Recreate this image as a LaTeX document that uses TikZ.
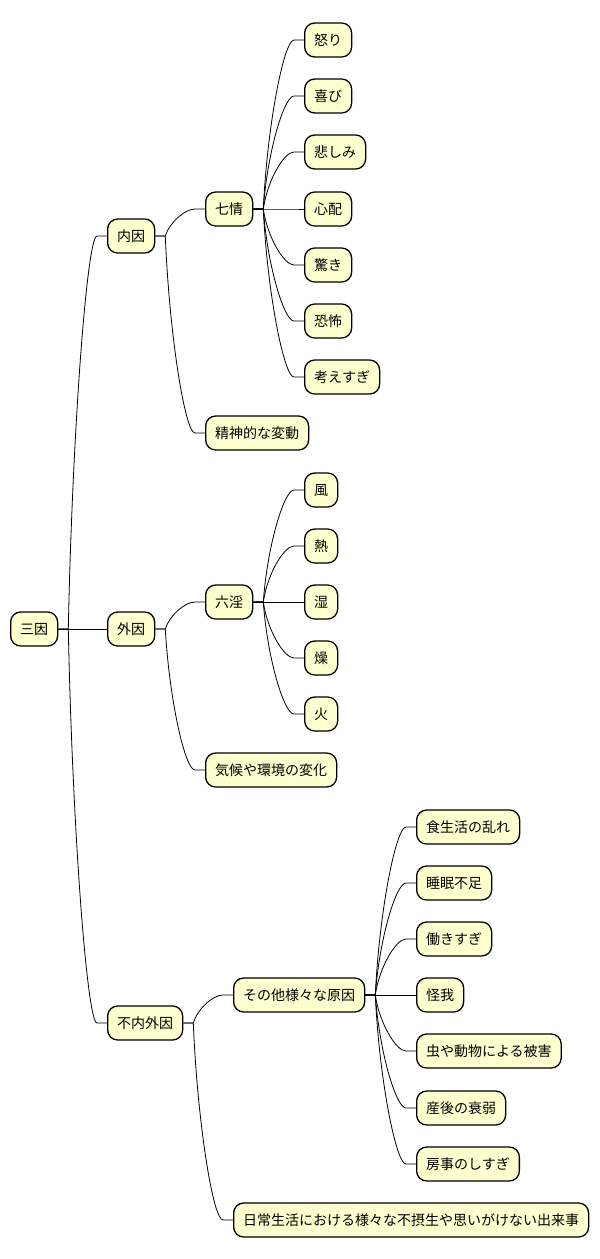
\documentclass[tikz,border=0pt]{standalone}
\usepackage{fontspec}
\setmainfont{Noto Sans CJK JP}
\usetikzlibrary{calc}

\definecolor{boxfill}{HTML}{FEFECE}

\tikzset{
  topic/.style={draw=black, line width=1.3pt, fill=boxfill, rounded corners=10pt,
    minimum height=34pt, inner xsep=9.5pt, text height=12pt, text depth=2pt,
    anchor=west, font=\fontsize{14pt}{16pt}\selectfont},
  link/.style={line width=0.8pt, black}
}

% parent -> child connector
\newcommand\mmlink[2]{%
  \draw[link] let \p1=(#1.east), \p2=(#2.west) in
    (\p1) -- (\x1+10pt,\y1)
    .. controls (\x1+14pt,{0.5*\y1+0.5*\y2}) and (\x2-20pt,\y2) .. (\x2-10pt,\y2)
    -- (\p2);}

\begin{document}
\begin{tikzpicture}[x=1pt,y=-1pt]

    \useasboundingbox (0,0) rectangle (600,1259);

    % Root
    \node[topic] (sanin) at (10,629) {三因};

    % Level 1
    \node[topic] (naiin)  at (107,236)  {内因};
    \node[topic] (gaiin)  at (107,629)  {外因};
    \node[topic] (funai)  at (107,1023) {不内外因};

    % Inner causes
    \node[topic] (shichijo) at (205,209) {七情};
    \node[topic] (seishin)  at (205,433) {精神的な変動};
    \node[topic] (ikari)    at (304,40)  {怒り};
    \node[topic] (yorokobi) at (304,96)  {喜び};
    \node[topic] (kanashimi) at (304,152) {悲しみ};
    \node[topic] (shinpai)  at (304,209) {心配};
    \node[topic] (odoroki)  at (304,265) {驚き};
    \node[topic] (kyofu)    at (304,321) {恐怖};
    \node[topic] (kangae)   at (304,377) {考えすぎ};

    % Outer causes
    \node[topic] (rokuin) at (205,602) {六淫};
    \node[topic] (kiko)   at (205,770) {気候や環境の変化};
    \node[topic] (kaze)   at (304,490) {風};
    \node[topic] (netsu)  at (304,546) {熱};
    \node[topic] (shitsu) at (304,602) {湿};
    \node[topic] (so)     at (304,658) {燥};
    \node[topic] (hi)     at (304,714) {火};

    % Neither inner nor outer
    \node[topic] (sonota)  at (233,995)  {その他様々な原因};
    \node[topic] (nichijo) at (233,1220) {日常生活における様々な不摂生や思いがけない出来事};
    \node[topic] (shoku)   at (416,827)  {食生活の乱れ};
    \node[topic] (suimin)  at (416,883)  {睡眠不足};
    \node[topic] (hataraki) at (416,939) {働きすぎ};
    \node[topic] (kega)    at (416,995)  {怪我};
    \node[topic] (mushi)   at (416,1051) {虫や動物による被害};
    \node[topic] (sango)   at (416,1108) {産後の衰弱};
    \node[topic] (boji)    at (416,1164) {房事のしすぎ};

    % Connectors
    \foreach \c in {naiin,gaiin,funai} {\mmlink{sanin}{\c}}
    \foreach \c in {shichijo,seishin} {\mmlink{naiin}{\c}}
    \foreach \c in {ikari,yorokobi,kanashimi,shinpai,odoroki,kyofu,kangae} {\mmlink{shichijo}{\c}}
    \foreach \c in {rokuin,kiko} {\mmlink{gaiin}{\c}}
    \foreach \c in {kaze,netsu,shitsu,so,hi} {\mmlink{rokuin}{\c}}
    \foreach \c in {sonota,nichijo} {\mmlink{funai}{\c}}
    \foreach \c in {shoku,suimin,hataraki,kega,mushi,sango,boji} {\mmlink{sonota}{\c}}

\end{tikzpicture}
\end{document}
